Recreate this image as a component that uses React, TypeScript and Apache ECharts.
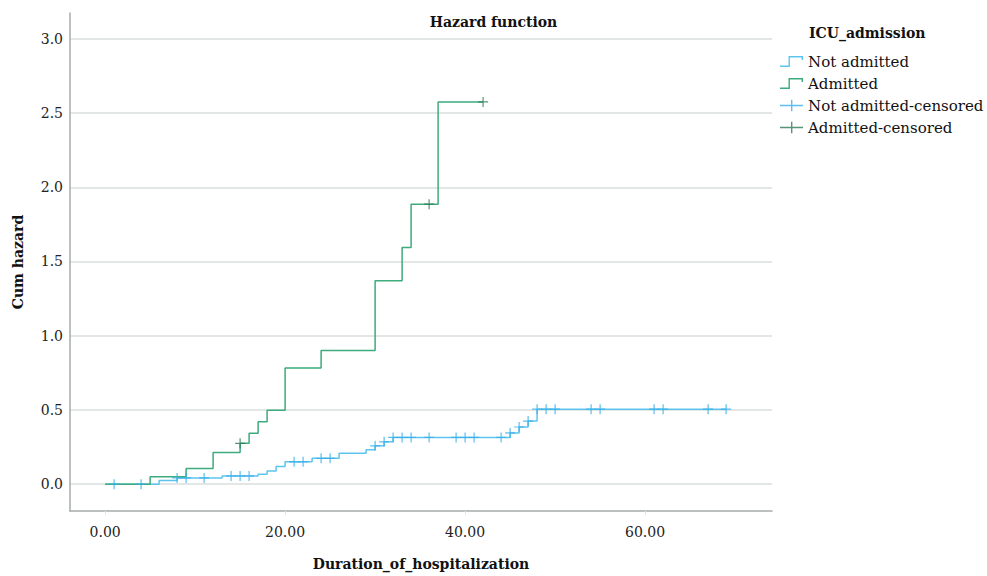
import React, { useEffect, useRef } from "react";
import * as echarts from "echarts";

// ---- Data ----
const xTickValues = [0, 20, 40, 60];
const yTickValues = [0, 0.5, 1, 1.5, 2, 2.5, 3];

// Not admitted: event times and cumulative hazard after each event
const notAdmittedTimes = [0, 6, 8, 13, 17, 18, 19, 20, 23, 26, 29, 30, 31, 32, 45, 46, 47, 48];
const notAdmittedHazard = [0, 0.025, 0.042, 0.055, 0.066, 0.088, 0.118, 0.15, 0.174, 0.208, 0.232, 0.258, 0.285, 0.315, 0.345, 0.385, 0.425, 0.505];
const notAdmittedLastTime = 69;
const notAdmittedCensoredTimes = [1, 4, 8, 9, 11, 14, 15, 16, 21, 22, 24, 25, 30, 31, 32, 33, 34, 36, 39, 40, 41, 44, 45, 46, 47, 48, 49, 50, 54, 55, 61, 62, 67, 69];

// Admitted
const admittedTimes = [0, 5, 9, 12, 15, 16, 17, 18, 20, 24, 30, 33, 34, 37];
const admittedHazard = [0, 0.049, 0.105, 0.213, 0.275, 0.342, 0.42, 0.497, 0.783, 0.9, 1.371, 1.595, 1.886, 2.575];
const admittedLastTime = 42;
const admittedCensoredTimes = [15, 36, 42];

// ---- helpers ----
function levelAt(times: number[], values: number[], t: number): number {
  let v = values[0];
  for (let i = 0; i < times.length; i++) {
    if (times[i] <= t) v = values[i];
  }
  return v;
}
function stepData(times: number[], values: number[], last: number) {
  const d = times.map((t, i) => [t, values[i]]);
  d.push([last, values[values.length - 1]]);
  return d;
}
function censorData(times: number[], values: number[], cens: number[]) {
  return cens.map((t) => [t, levelAt(times, values, t)]);
}

const FONT = "'DejaVu Serif', serif";
const BLUE_LINE = "#5cc5ef";
const BLUE_MARK = "#35aee8";
const GREEN_LINE = "#3dab7c";
const GREEN_MARK = "#2c7b55";

const PLUS_SYMBOL =
  "path://M4.4,0 L5.6,0 L5.6,4.4 L10,4.4 L10,5.6 L5.6,5.6 L5.6,10 L4.4,10 L4.4,5.6 L0,5.6 L0,4.4 L4.4,4.4 Z";
const STEP_ICON =
  "path://M0,10.5 L8.5,10.5 L8.5,1 L23,1 L23,5 L21.6,5 L21.6,2.4 L9.9,2.4 L9.9,11.9 L0,11.9 Z";
const PLUS_ICON =
  "path://M0,6 L11,6 L11,1 L12.4,1 L12.4,6 L23,6 L23,7.4 L12.4,7.4 L12.4,12.4 L11,12.4 L11,7.4 L0,7.4 Z";

export default function App() {
  const ref = useRef<HTMLDivElement>(null);

  useEffect(() => {
    document.body.style.margin = "0";
    if (!ref.current) return;
    const chart = echarts.init(ref.current, undefined, { renderer: "svg" });

    const option: any = {
      animation: false,
      backgroundColor: "#ffffff",
      title: [
        {
          text: "Hazard function",
          left: "center",
          top: 10,
          textStyle: { fontFamily: FONT, fontWeight: "bold", fontSize: 14, color: "#111" },
        },
        {
          text: "ICU_admission",
          left: 804,
          top: 21,
          textStyle: { fontFamily: FONT, fontWeight: "bold", fontSize: 14, color: "#111" },
        },
      ],
      legend: {
        orient: "vertical",
        left: 775,
        top: 49,
        itemWidth: 23,
        itemHeight: 13,
        itemGap: 7,
        selectedMode: false,
        textStyle: { fontFamily: FONT, fontSize: 15, color: "#111" },
        data: [
          { name: "Not admitted", icon: STEP_ICON, itemStyle: { color: BLUE_LINE } },
          { name: "Admitted", icon: STEP_ICON, itemStyle: { color: GREEN_LINE } },
          { name: "Not admitted-censored", icon: PLUS_ICON, itemStyle: { color: BLUE_MARK } },
          { name: "Admitted-censored", icon: PLUS_ICON, itemStyle: { color: GREEN_MARK } },
        ],
      },
      grid: { left: 70, right: 215, top: 13, bottom: 63 },
      xAxis: {
        type: "value",
        min: -3.9,
        max: 74.1,
        name: "Duration_of_hospitalization",
        nameLocation: "middle",
        nameGap: 46,
        nameTextStyle: { fontFamily: FONT, fontWeight: "bold", fontSize: 14, color: "#111" },
        axisLine: { show: true, onZero: false, lineStyle: { color: "#a6adab", width: 1.5 } },
        axisTick: { show: true, customValues: xTickValues, length: 4, lineStyle: { color: "#e2e6e5" } },
        axisLabel: {
          customValues: xTickValues,
          formatter: (v: number) => v.toFixed(2),
          margin: 14,
          fontFamily: FONT,
          fontSize: 14,
          color: "#222",
        },
        splitLine: { show: false },
      },
      yAxis: {
        type: "value",
        min: -0.181,
        max: 3.174,
        name: "Cum hazard",
        nameLocation: "middle",
        nameGap: 45,
        nameTextStyle: { fontFamily: FONT, fontWeight: "bold", fontSize: 14, color: "#111" },
        axisLine: { show: true, onZero: false, lineStyle: { color: "#a6adab", width: 1.5 } },
        axisTick: { show: false, customValues: yTickValues },
        axisLabel: {
          customValues: yTickValues,
          formatter: (v: number) => v.toFixed(1),
          margin: 7,
          fontFamily: FONT,
          fontSize: 14,
          color: "#222",
        },
        splitLine: { show: true, lineStyle: { color: "#d8dedd", width: 1.5 } },
      },
      series: [
        {
          name: "Not admitted",
          type: "line",
          step: "end",
          symbol: "none",
          data: stepData(notAdmittedTimes, notAdmittedHazard, notAdmittedLastTime),
          lineStyle: { color: BLUE_LINE, width: 1.5 },
          itemStyle: { color: BLUE_LINE },
          z: 3,
        },
        {
          name: "Admitted",
          type: "line",
          step: "end",
          symbol: "none",
          data: stepData(admittedTimes, admittedHazard, admittedLastTime),
          lineStyle: { color: GREEN_LINE, width: 1.5 },
          itemStyle: { color: GREEN_LINE },
          z: 3,
        },
        {
          name: "Not admitted-censored",
          type: "scatter",
          symbol: PLUS_SYMBOL,
          symbolSize: 10,
          data: censorData(notAdmittedTimes, notAdmittedHazard, notAdmittedCensoredTimes),
          itemStyle: { color: BLUE_MARK },
          z: 4,
        },
        {
          name: "Admitted-censored",
          type: "scatter",
          symbol: PLUS_SYMBOL,
          symbolSize: 10,
          data: censorData(admittedTimes, admittedHazard, admittedCensoredTimes),
          itemStyle: { color: GREEN_MARK },
          z: 4,
        },
      ],
    };

    chart.setOption(option);
    return () => {
      chart.dispose();
    };
  }, []);

  return (
    <div
      ref={ref}
      style={{ position: "fixed", left: 0, top: 0, width: 987, height: 576, background: "#fff" }}
    />
  );
}
